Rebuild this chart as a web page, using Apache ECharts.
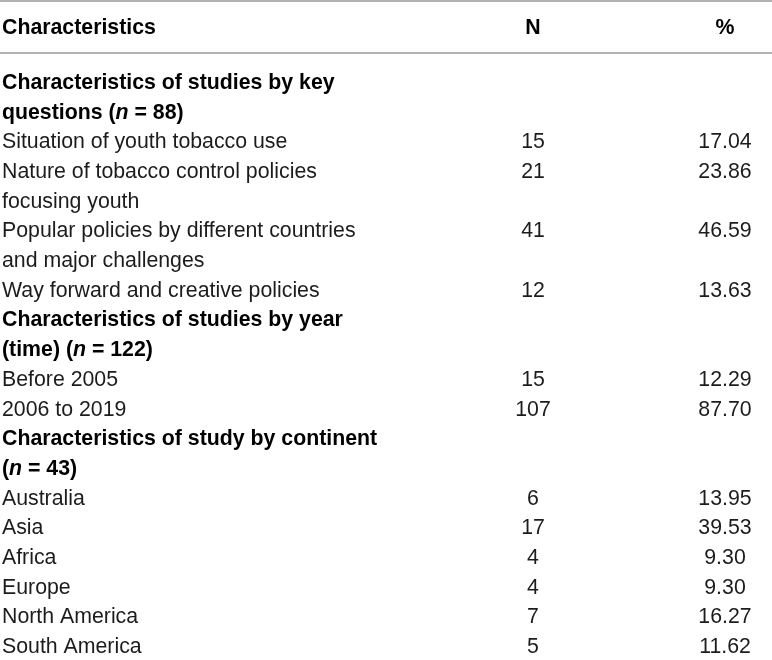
<!DOCTYPE html>
<html>
<head>
<meta charset="utf-8">
<script src="https://cdn.jsdelivr.net/npm/echarts@6/dist/echarts.min.js"></script>
<style>
  html, body { margin: 0; padding: 0; background: #fff; }
  #main { width: 772px; height: 660px; }
</style>
</head>
<body>
<div id="main"></div>
<script>
// column headings
const headerLabels = ['Characteristics', 'N', '%']

// one entry per printed line of the table body (wrapped rows take two lines)
const rowLines = [
  'Characteristics of studies by key',
  'questions (n = 88)',
  'Situation of youth tobacco use',
  'Nature of tobacco control policies',
  'focusing youth',
  'Popular policies by different countries',
  'and major challenges',
  'Way forward and creative policies',
  'Characteristics of studies by year',
  '(time) (n = 122)',
  'Before 2005',
  '2006 to 2019',
  'Characteristics of study by continent',
  '(n = 43)',
  'Australia',
  'Asia',
  'Africa',
  'Europe',
  'North America',
  'South America'
]
// lines that belong to a section heading (bold)
const headingLines = [0, 1, 8, 9, 12, 13]
const nValues = [null, null, 15, 21, null, 41, null, 12, null, null, 15, 107, null, null, 6, 17, 4, 4, 7, 5]
const pctValues = [null, null, '17.04', '23.86', null, '46.59', null, '13.63', null, null, '12.29', '87.70', null, null, '13.95', '39.53', '9.30', '9.30', '16.27', '11.62']

var myChart = echarts.init(document.getElementById('main'))

const FONT = 'Liberation Sans'
const SIZE = 21.3
const BODY = '#1c1c1c', BOLD = '#000'
const colText = 2, colN = 533, colPct = 725  // column anchors on the x axis
const headerRow = -1.85, headerRule = -1.02, topRule = -2.77

const baseLabel = {
  show: true,
  position: 'inside',
  verticalAlign: 'middle',
  fontFamily: FONT,
  fontSize: SIZE,
  color: BODY,
  opacity: 1,
  rich: {
    bi: { fontFamily: FONT, fontSize: SIZE, fontWeight: 'bold', fontStyle: 'italic', color: BOLD }
  }
}

const textData = rowLines.map((t, i) => {
  const bold = headingLines.indexOf(i) >= 0
  return {
    value: [colText, i],
    name: t,
    label: { fontWeight: bold ? 'bold' : 'normal', color: bold ? BOLD : BODY }
  }
})
headerLabels.forEach((t, k) => {
  textData.push({
    value: [[colText, colN, colPct][k], headerRow],
    name: t,
    label: { fontWeight: 'bold', color: BOLD, align: k === 0 ? 'left' : 'center' }
  })
})

const numData = (arr, x) => arr
  .map((v, i) => v == null ? null : { value: [x, i], name: String(v) })
  .filter(d => d)

const textSeries = (data, extra) => Object.assign({
  type: 'scatter',
  symbolSize: 0,
  silent: true,
  itemStyle: { opacity: 1 },
  data: data
}, extra)

var option = {
  animation: false,
  backgroundColor: '#fff',
  grid: { left: 0, right: 0, top: 0, bottom: 0 },
  xAxis: { type: 'value', min: 0, max: 772, show: false },
  yAxis: { type: 'value', inverse: true, min: -2.795, max: 19.43, show: false },
  series: [
    textSeries(textData, {
      label: Object.assign({}, baseLabel, {
        align: 'left',
        formatter: p => p.name.replace(/\(n = /, '({bi|n} = ')
      }),
      markLine: {
        symbol: 'none',
        silent: true,
        label: { show: false },
        lineStyle: { color: '#9a9a9a', width: 1.5, type: 'solid', opacity: 1 },
        data: [
          [{ coord: [0, topRule] }, { coord: [772, topRule] }],
          [{ coord: [0, headerRule] }, { coord: [772, headerRule] }]
        ]
      }
    }),
    textSeries(numData(nValues, colN), {
      label: Object.assign({}, baseLabel, { align: 'center', formatter: p => p.name })
    }),
    textSeries(numData(pctValues, colPct), {
      label: Object.assign({}, baseLabel, { align: 'center', formatter: p => p.name })
    })
  ]
}

myChart.setOption(option)
</script>
</body>
</html>
